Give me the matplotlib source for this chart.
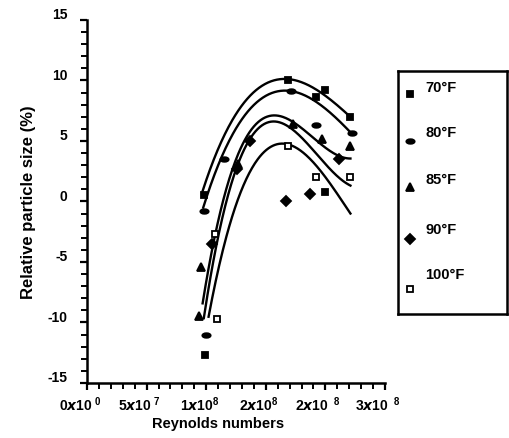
import numpy as np
import matplotlib
matplotlib.use('Agg')
import matplotlib.pyplot as plt
from matplotlib.path import Path
from matplotlib.transforms import Affine2D, ScaledTranslation

plt.rcParams['font.family'] = ['Liberation Sans', 'DejaVu Sans']
plt.rcParams['font.weight'] = 'bold'
plt.rcParams['axes.unicode_minus'] = False
plt.rcParams['mathtext.fontset'] = 'custom'
plt.rcParams['mathtext.rm'] = 'Liberation Sans:bold'
plt.rcParams['mathtext.bf'] = 'Liberation Sans:bold'

# temperatures (legend order)
series_names = ['70°F', '80°F', '85°F', '90°F', '100°F']

# measured points: Reynolds number (x1e8) and relative particle size (%)
x70 = [0.98, 1.69, 1.92, 2.00, 2.21, 0.99, 2.00]
y70 = [0.5, 10.0, 8.6, 9.2, 7.0, -12.7, 0.8]
x80 = [0.98, 1.00, 1.15, 1.71, 1.92, 2.22]
y80 = [-0.8, -11.0, 3.5, 9.1, 6.3, 5.7]
x85 = [0.96, 0.94, 1.27, 1.73, 1.97, 2.21]
y85 = [-5.4, -9.5, 3.1, 6.4, 5.2, 4.6]
x90 = [1.05, 1.26, 1.37, 1.67, 1.87, 2.11]
y90 = [-3.5, 2.7, 5.0, 0.0, 0.6, 3.5]
x100 = [1.09, 1.07, 1.69, 1.92, 2.21]
y100 = [-9.7, -2.7, 4.6, 2.0, 2.0]

# fitted curves
cx70 = [0.97, 1.01, 1.11, 1.25, 1.42, 1.69, 2.02, 2.21]
cy70 = [0.2, 2.7, 4.9, 7.0, 8.9, 10.4, 8.5, 7.0]
cx80 = [0.975, 1.04, 1.15, 1.32, 1.48, 1.71, 1.94, 2.22]
cy80 = [-0.9, 1.9, 4.3, 6.8, 8.5, 9.3, 8.1, 5.6]
cx85 = [0.97, 1.02, 1.10, 1.25, 1.45, 1.70, 1.95, 2.21]
cy85 = [-9.5, -5.0, -0.5, 3.5, 5.8, 6.6, 5.5, 3.3]
cx90 = [0.98, 1.03, 1.10, 1.25, 1.45, 1.72, 1.95, 2.21]
cy90 = [-11.0, -6.0, -1.5, 2.8, 5.0, 5.8, 4.5, 1.0]
cx100 = [1.02, 1.08, 1.15, 1.28, 1.48, 1.75, 1.98, 2.21]
cy100 = [-10.0, -6.5, -3.0, 0.8, 3.4, 4.3, 2.8, -1.2]

xtick_vals = [0, 5e7, 1e8, 1.5e8, 2e8, 2.5e8]
xtick_labels = [r'$0x10^{\ 0}$', r'$5x10^{\ 7}$', r'$1x10^{8}$',
                r'$2x10^{8}$', r'$2x10^{\ \ 8}$', r'$3x10^{\ \ 8}$']
ytick_vals = [-15, -10, -5, 0, 5, 10, 15]

ellipse = Path.unit_circle().transformed(Affine2D().scale(1.0, 0.55))
markers = ['s', ellipse, '^', 'D', 's']
msizes = [5, 6, 6, 5, 5]
faces = ['black', 'black', 'black', 'black', 'white']

points = [(x70, y70), (x80, y80), (x85, y85), (x90, y90), (x100, y100)]
curves = [(cx70, cy70), (cx80, cy80), (cx85, cy85), (cx90, cy90), (cx100, cy100)]

fig = plt.figure(figsize=(5.09, 4.39), dpi=100)
ax = fig.add_axes([0.1709, 0.1253, 0.5855, 0.8269])

for (cx, cy), (px, py), m, ms, fc in zip(curves, points, markers, msizes, faces):
    cx = np.array(cx) * 1e8
    coef = np.polyfit(cx / 1e8, cy, 3)
    xs = np.linspace(cx.min(), cx.max(), 200)
    ax.plot(xs, np.polyval(coef, xs / 1e8), color='black', lw=1.7)
    ax.plot(np.array(px) * 1e8, py, linestyle='none', marker=m, ms=ms,
            mfc=fc, mec='black', mew=1.3)

ax.set_xlim(0, 2.5e8)
ax.set_ylim(-15, 15)
ax.set_xticks(xtick_vals)
ax.set_xticklabels(xtick_labels)
ax.set_xticks(np.arange(0, 2.5e8 + 1, 1e7), minor=True)
ax.set_yticks(ytick_vals)
ax.set_yticks(np.arange(-15, 16, 1), minor=True)

for s in ['top', 'right']:
    ax.spines[s].set_visible(False)
for s in ['left', 'bottom']:
    ax.spines[s].set_linewidth(1.8)
ax.tick_params(which='major', direction='out', length=5, width=1.6, labelsize=10)
ax.tick_params(axis='y', which='major', pad=9)
ax.tick_params(which='minor', direction='out', length=4, width=1.4)

# labels sit a little off their ticks in the original
for lab in ax.get_yticklabels():
    lab.set_transform(lab.get_transform() + ScaledTranslation(0, 0.07, fig.dpi_scale_trans))
for lab in ax.get_xticklabels():
    lab.set_transform(lab.get_transform() + ScaledTranslation(-0.07, 0, fig.dpi_scale_trans))

ax.set_xlabel('Reynolds numbers', fontsize=10.5, fontweight='bold', labelpad=2, x=0.44)
ax.set_ylabel('Relative particle size (%)', fontsize=12, fontweight='bold', labelpad=8)

# legend box
lax = fig.add_axes([0.782, 0.2825, 0.214, 0.553])
lax.set_xlim(0, 1)
lax.set_ylim(0, 1)
lax.set_xticks([])
lax.set_yticks([])
for s in lax.spines.values():
    s.set_linewidth(1.8)
mark_y = [0.905, 0.712, 0.523, 0.309, 0.103]
text_y = [0.934, 0.749, 0.556, 0.35, 0.165]
for name, m, ms, fc, my, ty in zip(series_names, markers, msizes, faces, mark_y, text_y):
    lax.plot([0.11], [my], linestyle='none', marker=m, ms=ms, mfc=fc,
             mec='black', mew=1.3)
    lax.text(0.25, ty, name, fontsize=10.5, fontweight='bold', va='center')

fig.savefig('out.png', dpi=100)
